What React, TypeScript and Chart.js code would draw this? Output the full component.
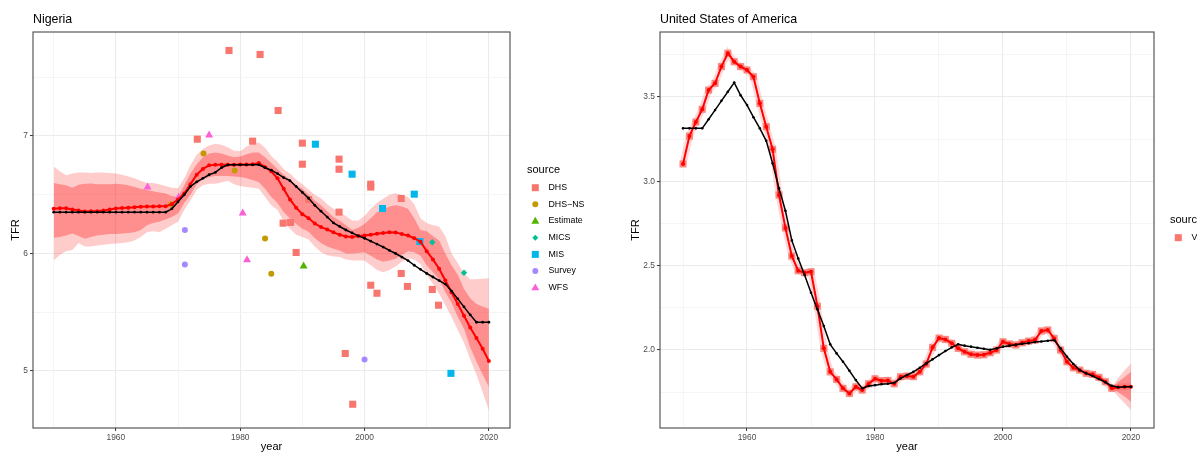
import React, { useEffect, useRef } from "react";
import { Chart, registerables } from "chart.js";

Chart.register(...registerables);

const FONT = "'Liberation Sans', Arial, Helvetica, sans-serif";
const H = 452;

// ---------------- Nigeria ----------------
const ngYears = [
  1950, 1951, 1952, 1953, 1954, 1955, 1956, 1957, 1958, 1959,
  1960, 1961, 1962, 1963, 1964, 1965, 1966, 1967, 1968, 1969,
  1970, 1971, 1972, 1973, 1974, 1975, 1976, 1977, 1978, 1979,
  1980, 1981, 1982, 1983, 1984, 1985, 1986, 1987, 1988, 1989,
  1990, 1991, 1992, 1993, 1994, 1995, 1996, 1997, 1998, 1999,
  2000, 2001, 2002, 2003, 2004, 2005, 2006, 2007, 2008, 2009,
  2010, 2011, 2012, 2013, 2014, 2015, 2016, 2017, 2018, 2019,
  2020,
];
const ngEstimate = [
  6.352, 6.352, 6.352, 6.352, 6.352, 6.352, 6.352, 6.352, 6.352, 6.352,
  6.352, 6.352, 6.352, 6.352, 6.352, 6.352, 6.352, 6.352, 6.352, 6.38,
  6.44, 6.5, 6.57, 6.61, 6.64, 6.67, 6.69, 6.73, 6.755, 6.755,
  6.755, 6.755, 6.755, 6.755, 6.73, 6.71, 6.68, 6.645, 6.62, 6.57,
  6.52, 6.47, 6.41, 6.36, 6.31, 6.26, 6.23, 6.2, 6.175, 6.15,
  6.13, 6.105, 6.08, 6.055, 6.026, 6.0, 5.97, 5.94, 5.9, 5.865,
  5.83, 5.8, 5.77, 5.74, 5.68, 5.614, 5.546, 5.478, 5.415, 5.415,
  5.415,
];
const ngMedian = [
  6.38, 6.385, 6.385, 6.375, 6.366, 6.357, 6.36, 6.36, 6.365, 6.375,
  6.383, 6.387, 6.39, 6.393, 6.397, 6.4, 6.4, 6.402, 6.403, 6.42,
  6.46, 6.51, 6.59, 6.67, 6.72, 6.75, 6.755, 6.755, 6.755, 6.755,
  6.757, 6.757, 6.76, 6.77, 6.735, 6.7, 6.64, 6.55, 6.46, 6.39,
  6.335, 6.3, 6.255, 6.225, 6.205, 6.18, 6.16, 6.145, 6.14, 6.148,
  6.153, 6.16, 6.168, 6.175, 6.18, 6.178, 6.165, 6.153, 6.13, 6.1,
  6.02, 5.95, 5.87, 5.77, 5.67, 5.57, 5.47, 5.37, 5.28, 5.19,
  5.085,
];
const ngUpper95 = [
  6.74, 6.7, 6.665, 6.68, 6.69, 6.69, 6.685, 6.69, 6.69, 6.685,
  6.68, 6.67, 6.655, 6.64, 6.62, 6.6, 6.6, 6.59, 6.575, 6.56,
  6.555, 6.64, 6.75, 6.84, 6.89, 6.92, 6.934, 6.925, 6.905, 6.875,
  6.87, 6.91, 6.935, 6.945, 6.9, 6.83, 6.78, 6.72, 6.68, 6.63,
  6.59, 6.545, 6.5, 6.47, 6.42, 6.38, 6.35, 6.32, 6.28, 6.28,
  6.32, 6.38, 6.43, 6.465, 6.5, 6.513, 6.5, 6.48, 6.42, 6.3,
  6.26, 6.24, 6.23, 6.15, 6.0, 5.92, 5.83, 5.78, 5.78, 5.785,
  5.79,
];
const ngUpper80 = [
  6.6, 6.59, 6.58, 6.56, 6.585, 6.593, 6.595, 6.59, 6.59, 6.59,
  6.593, 6.59, 6.58, 6.565, 6.55, 6.54, 6.53, 6.52, 6.51, 6.49,
  6.48, 6.58, 6.68, 6.76, 6.82, 6.85, 6.86, 6.85, 6.835, 6.82,
  6.825, 6.845, 6.86, 6.86, 6.82, 6.77, 6.72, 6.67, 6.63, 6.58,
  6.55, 6.5, 6.45, 6.41, 6.36, 6.31, 6.28, 6.24, 6.2, 6.22,
  6.25, 6.3, 6.35, 6.37, 6.4, 6.41, 6.4, 6.38, 6.3, 6.2,
  6.19, 6.15, 6.11, 6.0, 5.9, 5.82, 5.7, 5.62, 5.57, 5.55,
  5.53,
];
const ngLower80 = [
  6.134, 6.14, 6.153, 6.17, 6.15, 6.125, 6.14, 6.153, 6.16, 6.165,
  6.167, 6.17, 6.175, 6.18, 6.2, 6.24, 6.26, 6.27, 6.29, 6.31,
  6.34, 6.43, 6.5, 6.59, 6.63, 6.65, 6.66, 6.66, 6.66, 6.655,
  6.65, 6.64, 6.625, 6.607, 6.55, 6.48, 6.43, 6.35, 6.3, 6.25,
  6.21, 6.185, 6.13, 6.09, 6.06, 6.04, 6.026, 6.0, 6.0, 6.005,
  6.01, 5.98, 5.95, 5.93, 5.94, 5.955, 5.99, 6.02, 6.01, 5.98,
  5.9, 5.84, 5.78, 5.67, 5.58, 5.46, 5.36, 5.2, 5.08, 4.97,
  4.864,
];
const ngLower95 = [
  5.94, 5.99, 6.02, 6.03, 6.09, 6.06, 6.06, 6.068, 6.075, 6.08,
  6.085, 6.09, 6.095, 6.11, 6.14, 6.18, 6.19, 6.18, 6.21, 6.24,
  6.27, 6.37, 6.45, 6.54, 6.58, 6.593, 6.593, 6.605, 6.62, 6.59,
  6.575, 6.565, 6.56, 6.55, 6.48, 6.41, 6.37, 6.27, 6.21, 6.16,
  6.14, 6.12, 6.06, 6.01, 5.985, 5.975, 5.97, 5.95, 5.94, 5.94,
  5.94, 5.9, 5.86, 5.84, 5.86, 5.89, 5.93, 5.96, 5.95, 5.91,
  5.82, 5.74, 5.66, 5.56, 5.46, 5.35, 5.24, 5.1, 4.97, 4.82,
  4.664,
];

// observed data points by source
const ngDhsYear = [
  1978.2, 1983.2, 1986.1, 1973.1, 1982.0, 1990.0, 1990.0, 1995.9, 1995.9, 2001.0,
  2001.0, 2005.9, 1991.0, 1995.9, 1986.9, 1988.1, 1989.0, 2005.9, 2001.0, 2002.0,
  2006.9, 2010.9, 2011.9, 1996.9, 1998.1,
];
const ngDhsTfr = [
  7.728, 7.694, 7.217, 6.973, 6.956, 6.939, 6.76, 6.803, 6.717, 6.59,
  6.565, 6.468, 6.46, 6.352, 6.258, 6.264, 6.009, 5.83, 5.73, 5.662,
  5.72, 5.694, 5.56, 5.149, 4.717,
];
const ngDhsNsYear = [1974.1, 1979.1, 1968.9, 1984.0, 1985.0];
const ngDhsNsTfr = [6.85, 6.706, 6.42, 6.128, 5.827];
const ngEstYear = [1990.2];
const ngEstTfr = [5.892];
const ngMicsYear = [2010.9, 2016.0];
const ngMicsTfr = [6.096, 5.836];
const ngMisYear = [1992.1, 1998.0, 2008.0, 2002.9, 2008.9, 2013.9];
const ngMisTfr = [6.93, 6.675, 6.505, 6.383, 6.102, 4.98];
const ngSurveyYear = [1971.1, 1971.1, 2000.0];
const ngSurveyTfr = [6.2, 5.906, 5.098];
const ngWfsYear = [1975.0, 1965.1, 1970.1, 1980.4, 1981.1];
const ngWfsTfr = [7.007, 6.565, 6.48, 6.343, 5.946];

const ngSourceNames = ["DHS", "DHS\u2212NS", "Estimate", "MICS", "MIS", "Survey", "WFS"];
const ngSourceColors = ["#F8766D", "#C49A00", "#53B400", "#00C094", "#00B6EB", "#A58AFF", "#FB61D7"];
const ngSourceShapes = ["rect", "circle", "triangle", "rectRot", "rect", "circle", "triangle"];

const ngXTicks = [1950, 1960, 1970, 1980, 1990, 2000, 2010, 2020];
const ngXLabels = [1960, 1980, 2000, 2020];
const ngYTicks = [5, 5.5, 6, 6.5, 7, 7.5];
const ngYLabels = [5, 6, 7];

// ---------------- United States of America ----------------
const usYears = [
  1950, 1951, 1952, 1953, 1954, 1955, 1956, 1957, 1958, 1959,
  1960, 1961, 1962, 1963, 1964, 1965, 1966, 1967, 1968, 1969,
  1970, 1971, 1972, 1973, 1974, 1975, 1976, 1977, 1978, 1979,
  1980, 1981, 1982, 1983, 1984, 1985, 1986, 1987, 1988, 1989,
  1990, 1991, 1992, 1993, 1994, 1995, 1996, 1997, 1998, 1999,
  2000, 2001, 2002, 2003, 2004, 2005, 2006, 2007, 2008, 2009,
  2010, 2011, 2012, 2013, 2014, 2015, 2016, 2017, 2018, 2019,
  2020,
];
const usMedian = [
  3.103, 3.268, 3.351, 3.427, 3.541, 3.581, 3.68, 3.759, 3.709, 3.68,
  3.66, 3.62, 3.462, 3.324, 3.19, 2.919, 2.724, 2.557, 2.47, 2.458,
  2.464, 2.26, 2.01, 1.871, 1.826, 1.773, 1.743, 1.782, 1.763, 1.8,
  1.83, 1.818, 1.82, 1.8, 1.842, 1.846, 1.842, 1.871, 1.917, 2.016,
  2.071, 2.063, 2.04, 2.01, 1.99, 1.975, 1.97, 1.972, 1.984, 2.0,
  2.049, 2.036, 2.03, 2.043, 2.053, 2.059, 2.113, 2.119, 2.069, 2.0,
  1.931, 1.895, 1.881, 1.862, 1.856, 1.838, 1.812, 1.773, 1.779, 1.782,
  1.782,
];
const usEstimate = [
  3.314, 3.314, 3.314, 3.314, 3.368, 3.422, 3.477, 3.531, 3.585, 3.51,
  3.452, 3.38, 3.314, 3.24, 3.107, 2.958, 2.826, 2.65, 2.543, 2.445,
  2.34, 2.241, 2.142, 2.034, 1.98, 1.931, 1.877, 1.822, 1.773, 1.787,
  1.792, 1.797, 1.8, 1.806, 1.832, 1.852, 1.871, 1.895, 1.921, 1.945,
  1.97, 1.994, 2.016, 2.034, 2.026, 2.02, 2.014, 2.008, 2.002, 2.01,
  2.02, 2.026, 2.032, 2.037, 2.041, 2.047, 2.051, 2.055, 2.059, 2.01,
  1.96, 1.917, 1.881, 1.862, 1.846, 1.828, 1.809, 1.788, 1.779, 1.782,
  1.782,
];
const usVrYear = [
  1950, 1951, 1952, 1953, 1954, 1955, 1956, 1957, 1958, 1959,
  1960, 1961, 1962, 1963, 1964, 1965, 1966, 1967, 1968, 1969,
  1970, 1971, 1972, 1973, 1974, 1975, 1976, 1977, 1978, 1979,
  1980, 1981, 1982, 1983, 1984, 1985, 1986, 1987, 1988, 1989,
  1990, 1991, 1992, 1993, 1994, 1995, 1996, 1997, 1998, 1999,
  2000, 2001, 2002, 2003, 2004, 2005, 2006, 2007, 2008, 2009,
  2010, 2011, 2012, 2013, 2014, 2015, 2016, 2017,
];
const usVrTfr = [
  3.103, 3.268, 3.351, 3.427, 3.541, 3.581, 3.68, 3.759, 3.709, 3.68,
  3.66, 3.62, 3.462, 3.324, 3.19, 2.919, 2.724, 2.557, 2.47, 2.458,
  2.464, 2.26, 2.01, 1.871, 1.826, 1.773, 1.743, 1.782, 1.763, 1.8,
  1.83, 1.818, 1.82, 1.8, 1.842, 1.846, 1.842, 1.871, 1.917, 2.016,
  2.071, 2.063, 2.04, 2.01, 1.99, 1.975, 1.97, 1.972, 1.984, 2.0,
  2.049, 2.036, 2.03, 2.043, 2.053, 2.059, 2.113, 2.119, 2.069, 2.0,
  1.931, 1.895, 1.881, 1.862, 1.856, 1.838, 1.812, 1.773,
];
const usBandYears = [2017, 2018, 2019, 2020];
const usLower95 = [1.768, 1.725, 1.685, 1.644];
const usUpper95 = [1.778, 1.835, 1.88, 1.921];
const usLower80 = [1.77, 1.75, 1.725, 1.694];
const usUpper80 = [1.776, 1.81, 1.84, 1.871];

const usSourceNames = ["VR"];
const usSourceColors = ["#F8766D"];
const usSourceShapes = ["rect"];

const usXTicks = [1950, 1960, 1970, 1980, 1990, 2000, 2010, 2020];
const usXLabels = [1960, 1980, 2000, 2020];
const usYTicks = [1.75, 2.0, 2.25, 2.5, 2.75, 3.0, 3.25, 3.5, 3.75];
const usYLabels = [2.0, 2.5, 3.0, 3.5];

// ---------------- helpers ----------------
const xy = (xs: number[], ys: number[]) => xs.map((x, i) => ({ x, y: ys[i] }));
const inList = (v: number, list: number[]) => list.some((m) => Math.abs(m - v) < 1e-6);

function drawMarker(ctx: CanvasRenderingContext2D, shape: string, x: number, y: number, color: string) {
  ctx.fillStyle = color;
  ctx.beginPath();
  if (shape === "rect") {
    ctx.rect(x - 3.5, y - 3.5, 7, 7);
  } else if (shape === "circle") {
    ctx.arc(x, y, 3, 0, Math.PI * 2);
  } else if (shape === "triangle") {
    ctx.moveTo(x, y - 4.3);
    ctx.lineTo(x + 4, y + 2.6);
    ctx.lineTo(x - 4, y + 2.6);
    ctx.closePath();
  } else if (shape === "rectRot") {
    ctx.moveTo(x, y - 3);
    ctx.lineTo(x + 3, y);
    ctx.lineTo(x, y + 3);
    ctx.lineTo(x - 3, y);
    ctx.closePath();
  }
  ctx.fill();
}

type Decor = {
  title: string;
  yTitleX: number;
  legendX: number;
  legendTitleY: number;
  names: string[];
  colors: string[];
  shapes: string[];
};

function decorPlugin(d: Decor) {
  return {
    id: "decor",
    afterDraw(chart: any) {
      const { ctx, chartArea: a } = chart;
      ctx.save();
      // panel border
      ctx.strokeStyle = "#4a4a4a";
      ctx.lineWidth = 1.1;
      ctx.strokeRect(a.left, a.top, a.right - a.left, a.bottom - a.top);
      // title
      ctx.fillStyle = "#000";
      ctx.textBaseline = "middle";
      ctx.textAlign = "left";
      ctx.font = `12.4px ${FONT}`;
      ctx.fillText(d.title, a.left, 20);
      // x title
      ctx.font = `11px ${FONT}`;
      ctx.textAlign = "center";
      ctx.fillText("year", (a.left + a.right) / 2, 447);
      // y title
      ctx.save();
      ctx.translate(d.yTitleX, (a.top + a.bottom) / 2);
      ctx.rotate(-Math.PI / 2);
      ctx.fillText("TFR", 0, 0);
      ctx.restore();
      // legend
      ctx.textAlign = "left";
      ctx.font = `11px ${FONT}`;
      ctx.fillText("source", d.legendX, d.legendTitleY);
      ctx.font = `8.8px ${FONT}`;
      d.names.forEach((n, i) => {
        const y = d.legendTitleY + 17.7 + i * 16.67;
        drawMarker(ctx, d.shapes[i], d.legendX + 8.3, y, d.colors[i]);
        ctx.fillStyle = "#000";
        ctx.fillText(n, d.legendX + 21.5, y);
      });
      ctx.restore();
    },
  };
}

type Spec = {
  width: number;
  area: { left: number; right: number; top: number; bottom: number };
  xMin: number;
  xMax: number;
  yMin: number;
  yMax: number;
  xTicks: number[];
  xLabels: number[];
  yTicks: number[];
  yLabels: number[];
  yFmt: (v: number) => string;
  datasets: any[];
  decor: Decor;
};

function makeConfig(s: Spec): any {
  const gridOpts = (labels: number[]) => ({
    color: (c: any) => (c.tick && inList(c.tick.value, labels) ? "#ebebeb" : "#f3f3f3"),
    lineWidth: (c: any) => (c.tick && inList(c.tick.value, labels) ? 1.1 : 0.8),
    tickLength: 3,
    tickWidth: 1,
    tickColor: (c: any) => (c.tick && inList(c.tick.value, labels) ? "#333333" : "rgba(0,0,0,0)"),
    drawTicks: true,
  });
  return {
    type: "line",
    data: { datasets: s.datasets },
    options: {
      animation: false,
      responsive: false,
      maintainAspectRatio: false,
      devicePixelRatio: 1,
      layout: { padding: { left: 0, top: s.area.top, right: s.width - s.area.right, bottom: 0 } },
      plugins: { legend: { display: false }, tooltip: { enabled: false }, title: { display: false } },
      scales: {
        x: {
          type: "linear",
          min: s.xMin,
          max: s.xMax,
          afterBuildTicks: (axis: any) => {
            axis.ticks = s.xTicks.map((v) => ({ value: v }));
          },
          afterFit: (axis: any) => {
            axis.height = H - s.area.bottom;
          },
          ticks: {
            autoSkip: false,
            maxRotation: 0,
            padding: 2,
            color: "#4d4d4d",
            font: { family: FONT, size: 8.4 },
            callback: (v: number) => (inList(v, s.xLabels) ? String(v) : ""),
          },
          grid: gridOpts(s.xLabels),
          border: { display: false },
        },
        y: {
          type: "linear",
          min: s.yMin,
          max: s.yMax,
          afterBuildTicks: (axis: any) => {
            axis.ticks = s.yTicks.map((v) => ({ value: v }));
          },
          afterFit: (axis: any) => {
            axis.width = s.area.left;
          },
          ticks: {
            autoSkip: false,
            padding: 2,
            color: "#4d4d4d",
            font: { family: FONT, size: 8.4 },
            callback: (v: number) => (inList(v, s.yLabels) ? s.yFmt(v) : ""),
          },
          grid: gridOpts(s.yLabels),
          border: { display: false },
        },
      },
    },
    plugins: [decorPlugin(s.decor)],
  };
}

const bandDs = (data: any[], fillTarget: number | false, color: string, order: number) => ({
  data,
  borderWidth: 0,
  pointRadius: 0,
  fill: fillTarget === false ? false : fillTarget,
  backgroundColor: color,
  borderColor: "rgba(0,0,0,0)",
  tension: 0,
  order,
});

const lineDs = (data: any[], color: string, width: number, radius: number, order: number) => ({
  data,
  borderColor: color,
  backgroundColor: color,
  borderWidth: width,
  pointRadius: radius,
  pointBorderWidth: 0,
  pointBackgroundColor: color,
  fill: false,
  tension: 0,
  order,
});

const pointDs = (data: any[], color: string, shape: string, radius: number, order: number) => ({
  data,
  showLine: false,
  pointStyle: shape,
  pointRadius: radius,
  pointBorderWidth: 0,
  pointBackgroundColor: color,
  backgroundColor: color,
  borderColor: color,
  fill: false,
  order,
});

const shapeRadius: Record<string, number> = { rect: 5, circle: 3, triangle: 4.6, rectRot: 3.2 };

function nigeriaSpec(): Spec {
  const srcYears = [ngDhsYear, ngDhsNsYear, ngEstYear, ngMicsYear, ngMisYear, ngSurveyYear, ngWfsYear];
  const srcTfr = [ngDhsTfr, ngDhsNsTfr, ngEstTfr, ngMicsTfr, ngMisTfr, ngSurveyTfr, ngWfsTfr];
  const datasets: any[] = [
    bandDs(xy(ngYears, ngLower95), false, "rgba(0,0,0,0)", 30),
    bandDs(xy(ngYears, ngUpper95), 0, "rgba(255,0,0,0.2)", 29),
    bandDs(xy(ngYears, ngLower80), false, "rgba(0,0,0,0)", 28),
    bandDs(xy(ngYears, ngUpper80), 2, "rgba(255,0,0,0.3)", 27),
  ];
  srcYears.forEach((ys, i) => {
    datasets.push(pointDs(xy(ys, srcTfr[i]), ngSourceColors[i], ngSourceShapes[i], shapeRadius[ngSourceShapes[i]], 10 + i));
  });
  datasets.push(lineDs(xy(ngYears, ngMedian), "#ff0000", 2, 2, 1));
  datasets.push(lineDs(xy(ngYears, ngEstimate), "#000000", 1.5, 1.4, 0));
  return {
    width: 600,
    area: { left: 33, right: 510, top: 32, bottom: 428 },
    xMin: 1946.67,
    xMax: 2023.4,
    yMin: 4.515,
    yMax: 7.885,
    xTicks: ngXTicks,
    xLabels: ngXLabels,
    yTicks: ngYTicks,
    yLabels: ngYLabels,
    yFmt: (v) => String(v),
    datasets,
    decor: {
      title: "Nigeria",
      yTitleX: 15.5,
      legendX: 527,
      legendTitleY: 170,
      names: ngSourceNames,
      colors: ngSourceColors,
      shapes: ngSourceShapes,
    },
  };
}

function usaSpec(): Spec {
  const datasets: any[] = [
    bandDs(xy(usBandYears, usLower95), false, "rgba(0,0,0,0)", 30),
    bandDs(xy(usBandYears, usUpper95), 0, "rgba(255,0,0,0.2)", 29),
    bandDs(xy(usBandYears, usLower80), false, "rgba(0,0,0,0)", 28),
    bandDs(xy(usBandYears, usUpper80), 2, "rgba(255,0,0,0.3)", 27),
    {
      data: xy(usYears, usMedian),
      borderColor: "rgba(255,0,0,0.15)",
      borderWidth: 7,
      pointRadius: 0,
      fill: false,
      tension: 0,
      order: 20,
    },
    pointDs(xy(usVrYear, usVrTfr), "rgba(248,118,109,0.85)", "rect", 5, 10),
    lineDs(xy(usYears, usMedian), "#ff0000", 2, 2, 1),
    lineDs(xy(usYears, usEstimate), "#000000", 1.5, 1.3, 0),
  ];
  return {
    width: 597,
    area: { left: 60, right: 554, top: 32, bottom: 428 },
    xMin: 1946.4,
    xMax: 2023.6,
    yMin: 1.538,
    yMax: 3.885,
    xTicks: usXTicks,
    xLabels: usXLabels,
    yTicks: usYTicks,
    yLabels: usYLabels,
    yFmt: (v) => v.toFixed(1),
    datasets,
    decor: {
      title: "United States of America",
      yTitleX: 36,
      legendX: 570,
      legendTitleY: 220,
      names: usSourceNames,
      colors: usSourceColors,
      shapes: usSourceShapes,
    },
  };
}

function Panel({ spec, left }: { spec: () => Spec; left: number }) {
  const ref = useRef<HTMLCanvasElement | null>(null);
  const s = spec();
  useEffect(() => {
    if (!ref.current) return;
    const chart = new Chart(ref.current, makeConfig(spec()));
    return () => chart.destroy();
  }, []);
  return (
    <canvas
      ref={ref}
      width={s.width}
      height={H}
      style={{ position: "absolute", left, top: 0, width: s.width, height: H, display: "block" }}
    />
  );
}

export default function App() {
  return (
    <div style={{ position: "absolute", left: 0, top: 0, width: 1197, height: H, background: "#fff", overflow: "hidden" }}>
      <Panel spec={nigeriaSpec} left={0} />
      <Panel spec={usaSpec} left={600} />
    </div>
  );
}
